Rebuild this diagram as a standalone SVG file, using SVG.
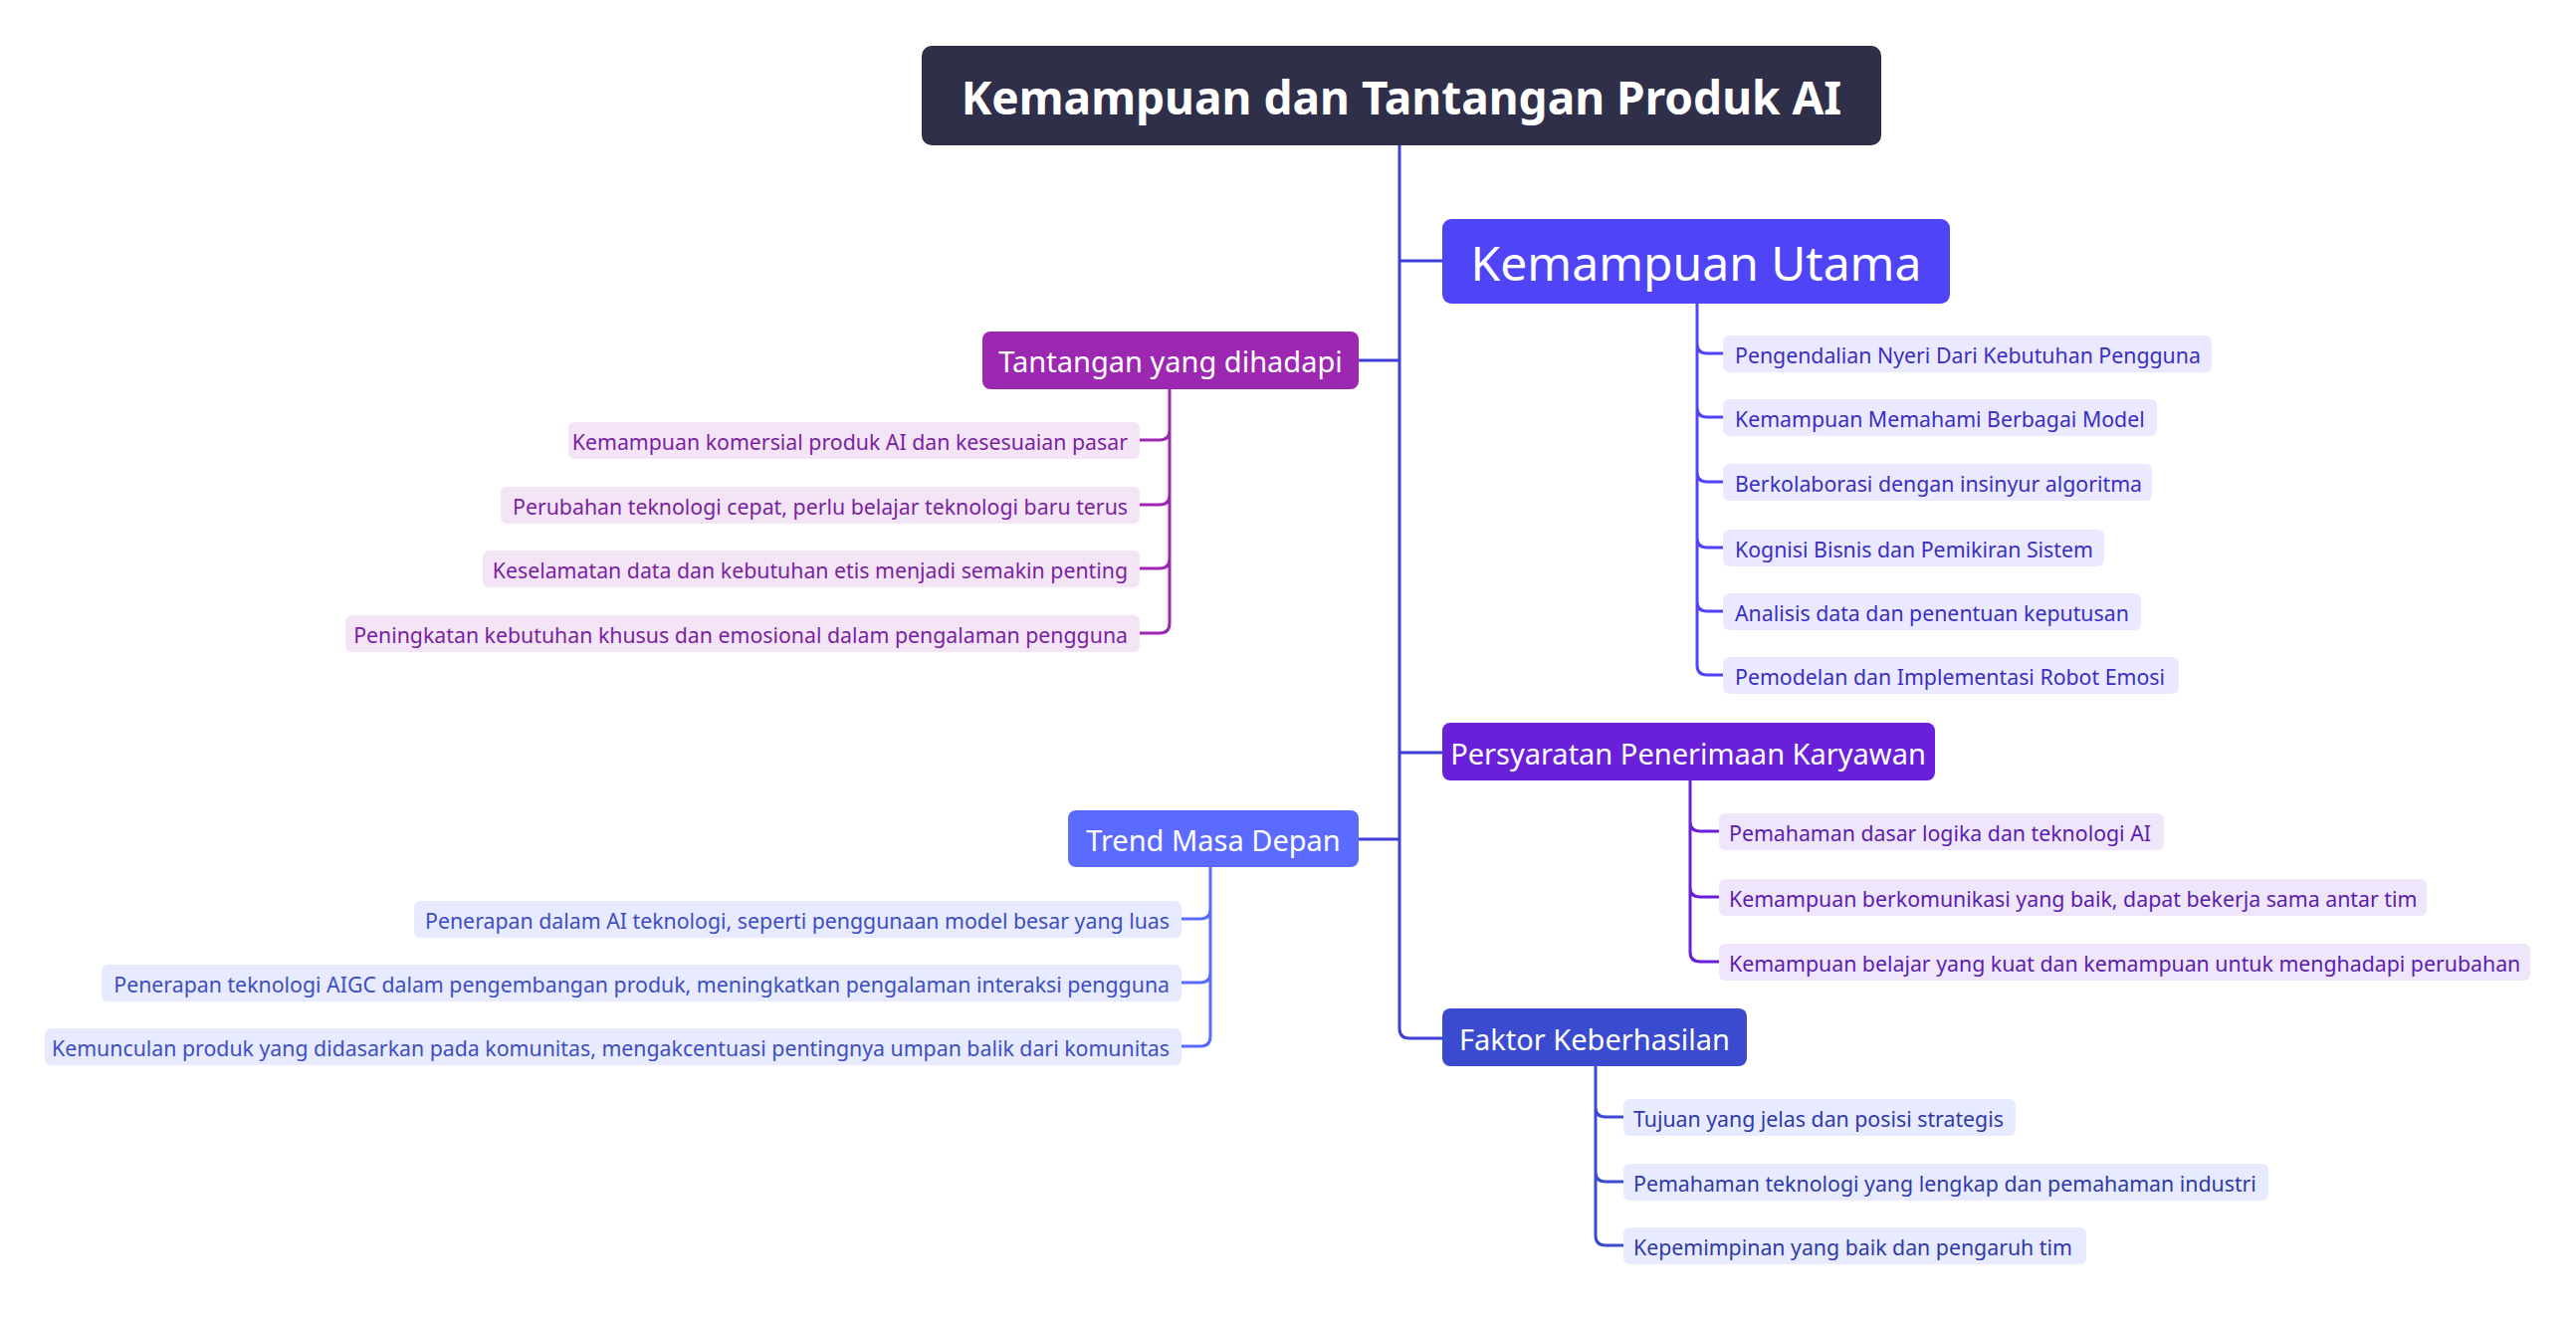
<svg xmlns="http://www.w3.org/2000/svg" width="2588" height="1332" viewBox="0 0 2588 1332">
<style>
text{font-family:"Noto Sans","Open Sans",sans-serif;dominant-baseline:central}
.it{font-size:21.3px}
.w{fill:#fff}
.c{fill:none;stroke-width:3}
</style>
<rect width="2588" height="1332" fill="#fff"/>
<g id="connectors">
<path class="c" stroke="#3f3fd6" d="M1406 145V1033q0 10 10 10H1449M1406 262H1449M1406 362H1365M1406 756H1449M1406 843H1365"/>
<path class="c" stroke="#4f45f7" d="M1705 305V668q0 10 10 10h16M1705 345q0 10 10 10h16M1705 409q0 10 10 10h16M1705 474q0 10 10 10h16M1705 540q0 10 10 10h16M1705 604q0 10 10 10h16"/>
<path class="c" stroke="#9c27b0" d="M1175 391V626q0 10 -10 10h-20M1175 432q0 10 -10 10h-20M1175 497q0 10 -10 10h-20M1175 561q0 10 -10 10h-20"/>
<path class="c" stroke="#6a1fd8" d="M1698 784V956q0 10 10 10h19M1698 825q0 10 10 10h19M1698 891q0 10 10 10h19"/>
<path class="c" stroke="#5c6bff" d="M1216 871V1041q0 10 -10 10h-19M1216 913q0 10 -10 10h-19M1216 977q0 10 -10 10h-19"/>
<path class="c" stroke="#3b4bd0" d="M1603 1071V1241q0 10 10 10h18M1603 1112q0 10 10 10h18M1603 1177q0 10 10 10h18"/>
</g>
<g id="root"><rect x="926" y="46" width="964" height="100" rx="10" fill="#2f2f4a"/><text x="1408" y="97" text-anchor="middle" class="w" font-size="46" font-weight="bold">Kemampuan dan Tantangan Produk AI</text></g>
<g id="utama"><rect x="1449" y="220" width="510" height="85" rx="9" fill="#4f45f7"/><text x="1704" y="263" text-anchor="middle" class="w" font-size="48">Kemampuan Utama</text></g>
<g id="utama-items" fill="#ebe9ff">
<g id="u1"><rect x="1731" y="337" width="491" height="37" rx="6"/><text x="1743" y="356" class="it" fill="#3a2fc0">Pengendalian Nyeri Dari Kebutuhan Pengguna</text></g>
<g id="u2"><rect x="1731" y="401" width="436" height="37" rx="6"/><text x="1743" y="420" class="it" fill="#3a2fc0">Kemampuan Memahami Berbagai Model</text></g>
<g id="u3"><rect x="1731" y="466" width="431" height="37" rx="6"/><text x="1743" y="485" class="it" fill="#3a2fc0">Berkolaborasi dengan insinyur algoritma</text></g>
<g id="u4"><rect x="1731" y="532" width="383" height="37" rx="6"/><text x="1743" y="551" class="it" fill="#3a2fc0">Kognisi Bisnis dan Pemikiran Sistem</text></g>
<g id="u5"><rect x="1731" y="596" width="420" height="37" rx="6"/><text x="1743" y="615" class="it" fill="#3a2fc0">Analisis data dan penentuan keputusan</text></g>
<g id="u6"><rect x="1731" y="660" width="458" height="37" rx="6"/><text x="1743" y="679" class="it" fill="#3a2fc0">Pemodelan dan Implementasi Robot Emosi</text></g>
</g>
<g id="tantangan"><rect x="987" y="333" width="378" height="58" rx="8" fill="#9c27b0"/><text x="1176" y="362" text-anchor="middle" class="w" font-size="29">Tantangan yang dihadapi</text></g>
<g id="tantangan-items" fill="#f3e5f5">
<g id="t1"><rect x="571" y="424" width="574" height="37" rx="6"/><text x="1133" y="443" text-anchor="end" class="it" fill="#7b1fa2">Kemampuan komersial produk AI dan kesesuaian pasar</text></g>
<g id="t2"><rect x="503" y="489" width="642" height="37" rx="6"/><text x="1133" y="508" text-anchor="end" class="it" fill="#7b1fa2">Perubahan teknologi cepat, perlu belajar teknologi baru terus</text></g>
<g id="t3"><rect x="485" y="553" width="660" height="37" rx="6"/><text x="1133" y="572" text-anchor="end" class="it" fill="#7b1fa2">Keselamatan data dan kebutuhan etis menjadi semakin penting</text></g>
<g id="t4"><rect x="347" y="618" width="798" height="37" rx="6"/><text x="1133" y="637" text-anchor="end" class="it" fill="#7b1fa2">Peningkatan kebutuhan khusus dan emosional dalam pengalaman pengguna</text></g>
</g>
<g id="persyaratan"><rect x="1449" y="726" width="495" height="58" rx="8" fill="#6a1fd8"/><text x="1696" y="756" text-anchor="middle" class="w" font-size="29">Persyaratan Penerimaan Karyawan</text></g>
<g id="persyaratan-items" fill="#efe6fb">
<g id="p1"><rect x="1727" y="817" width="447" height="37" rx="6"/><text x="1737" y="836" class="it" fill="#5b1db0">Pemahaman dasar logika dan teknologi AI</text></g>
<g id="p2"><rect x="1727" y="883" width="711" height="37" rx="6"/><text x="1737" y="902" class="it" fill="#5b1db0">Kemampuan berkomunikasi yang baik, dapat bekerja sama antar tim</text></g>
<g id="p3"><rect x="1727" y="948" width="815" height="37" rx="6"/><text x="1737" y="967" class="it" fill="#5b1db0">Kemampuan belajar yang kuat dan kemampuan untuk menghadapi perubahan</text></g>
</g>
<g id="trend"><rect x="1073" y="814" width="292" height="57" rx="8" fill="#5c6bff"/><text x="1219" y="843" text-anchor="middle" class="w" font-size="29">Trend Masa Depan</text></g>
<g id="trend-items" fill="#e8eaff">
<g id="r1"><rect x="416" y="905" width="771" height="37" rx="6"/><text x="1175" y="924" text-anchor="end" class="it" fill="#3d4fc0">Penerapan dalam AI teknologi, seperti penggunaan model besar yang luas</text></g>
<g id="r2"><rect x="102" y="969" width="1085" height="37" rx="6"/><text x="1175" y="988" text-anchor="end" class="it" fill="#3d4fc0">Penerapan teknologi AIGC dalam pengembangan produk, meningkatkan pengalaman interaksi pengguna</text></g>
<g id="r3"><rect x="45" y="1033" width="1142" height="37" rx="6"/><text x="1175" y="1052" text-anchor="end" class="it" fill="#3d4fc0">Kemunculan produk yang didasarkan pada komunitas, mengakcentuasi pentingnya umpan balik dari komunitas</text></g>
</g>
<g id="faktor"><rect x="1449" y="1013" width="306" height="58" rx="8" fill="#3b4bd0"/><text x="1602" y="1043" text-anchor="middle" class="w" font-size="29">Faktor Keberhasilan</text></g>
<g id="faktor-items" fill="#e8eaff">
<g id="f1"><rect x="1631" y="1104" width="394" height="37" rx="6"/><text x="1641" y="1123" class="it" fill="#2f3aa8">Tujuan yang jelas dan posisi strategis</text></g>
<g id="f2"><rect x="1631" y="1169" width="648" height="37" rx="6"/><text x="1641" y="1188" class="it" fill="#2f3aa8">Pemahaman teknologi yang lengkap dan pemahaman industri</text></g>
<g id="f3"><rect x="1631" y="1233" width="465" height="37" rx="6"/><text x="1641" y="1252" class="it" fill="#2f3aa8">Kepemimpinan yang baik dan pengaruh tim</text></g>
</g>
</svg>
